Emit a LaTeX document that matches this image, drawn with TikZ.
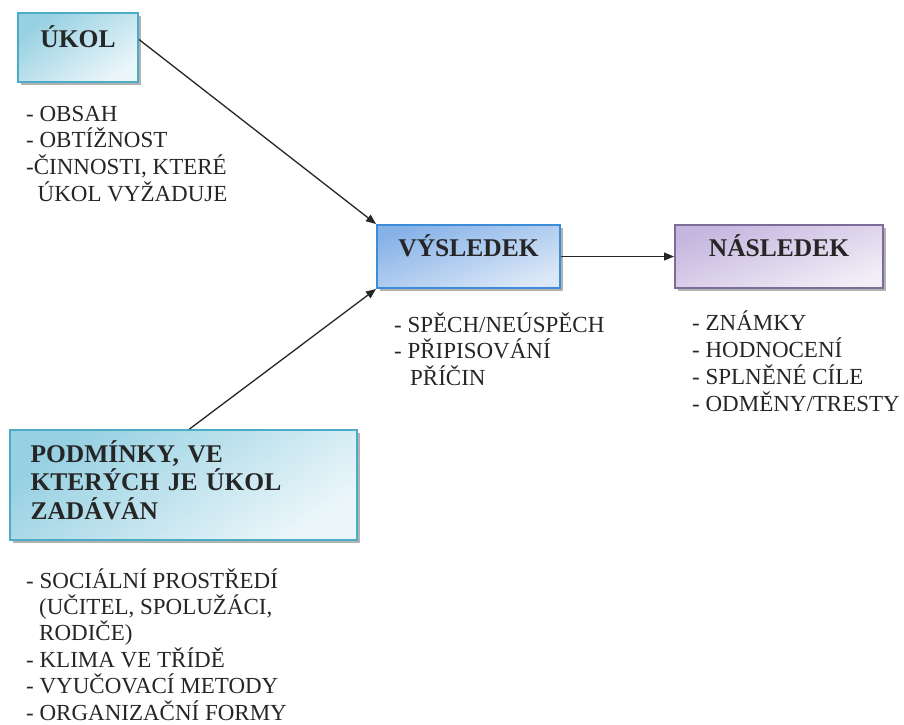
\documentclass[tikz,border=0pt]{standalone}
\usepackage{fontspec}
\setmainfont{Liberation Serif}
\usepackage{tikz}
\usetikzlibrary{arrows.meta, shadows}

\definecolor{cyanedge}{RGB}{75,172,198}
\definecolor{cyantop}{RGB}{150,208,226}
\definecolor{cyanbot}{RGB}{235,246,250}
\definecolor{blueedge}{RGB}{60,140,215}
\definecolor{bluetop}{RGB}{135,178,232}
\definecolor{bluebot}{RGB}{220,232,247}
\definecolor{violetedge}{RGB}{125,108,152}
\definecolor{violettop}{RGB}{196,182,222}
\definecolor{violetbot}{RGB}{242,238,247}

\begin{document}
\begin{tikzpicture}[
    x=1pt, y=-1pt,
    box/.style={rectangle, line width=2pt, text=black!85,
                font=\fontsize{25.5}{28.5}\selectfont\bfseries,
                drop shadow={shadow xshift=2.5pt, shadow yshift=-2.5pt, fill=black, opacity=0.3}},
    title/.style={box, text height=18pt, text depth=18pt},
    cyanbox/.style={draw=cyanedge, top color=cyantop, bottom color=cyanbot, shading angle=35},
    bluebox/.style={draw=blueedge, top color=bluetop, bottom color=bluebot, shading angle=20},
    violetbox/.style={draw=violetedge, top color=violettop, bottom color=violetbot, shading angle=20},
    list/.style={anchor=base west, align=left, inner sep=0pt, text=black!85,
                 font=\fontsize{23}{26.5}\selectfont},
    link/.style={line width=1.3pt, black!85, -{Triangle[length=10pt, width=8pt]}}
]
    \useasboundingbox (0,0) rectangle (904,724);

    % --- boxes ---
    \node[title, cyanbox, minimum width=120pt, minimum height=69pt] (ukol) at (78,47.5) {ÚKOL};
    \node[title, bluebox, minimum width=183pt, minimum height=63pt] (vysledek) at (468.5,256.5) {VÝSLEDEK};
    \node[title, violetbox, minimum width=208pt, minimum height=63pt] (nasledek) at (779,256.5) {NÁSLEDEK};
    \node[box, cyanbox, minimum width=347pt, minimum height=110pt, text width=306pt,
          align=left, text height=23pt, text depth=69pt] (podminky) at (183.5,485)
          {PODMÍNKY, VE\\KTERÝCH JE ÚKOL\\ZADÁVÁN};

    % --- lists under the boxes (placed at the last baseline) ---
    \node[list, font=\fontsize{23}{26.6}\selectfont] (ukollist) at (26,201)
      {- OBSAH\\- OBTÍŽNOST\\-ČINNOSTI, KTERÉ\\\hspace*{11.5pt}ÚKOL VYŽADUJE};
    \node[list] (vysledeklist) at (394,385)
      {- SPĚCH/NEÚSPĚCH\\- PŘIPISOVÁNÍ\\\hspace*{16pt}PŘÍČIN};
    \node[list, font=\fontsize{23}{27}\selectfont] (nasledeklist) at (692,411)
      {- ZNÁMKY\\- HODNOCENÍ\\- SPLNĚNÉ CÍLE\\- ODMĚNY/TRESTY};
    \node[list, font=\fontsize{23}{26.4}\selectfont] (podminkylist) at (26,720)
      {- SOCIÁLNÍ PROSTŘEDÍ\\\hspace*{13pt}(UČITEL, SPOLUŽÁCI,\\\hspace*{13pt}RODIČE)\\- KLIMA VE TŘÍDĚ\\- VYUČOVACÍ METODY\\- ORGANIZAČNÍ FORMY};

    % --- arrows ---
    \draw[link] ([yshift=8pt]ukol.east) -- (vysledek.north west);
    \draw[link] ([xshift=6pt]podminky.north) -- (vysledek.south west);
    \draw[link] (vysledek.east) -- (nasledek.west);

\end{tikzpicture}
\end{document}
